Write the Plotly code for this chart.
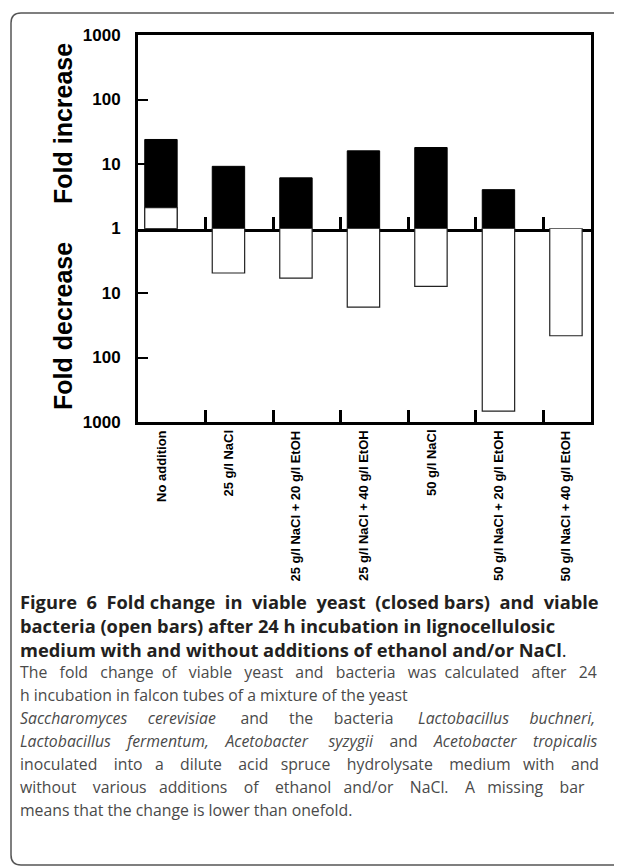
import math
import plotly.graph_objects as go

# ---------------- data ----------------
categories = [
    "No addition",
    "25 g/l NaCl",
    "25 g/l NaCl + 20 g/l EtOH",
    "25 g/l NaCl + 40 g/l EtOH",
    "50 g/l NaCl",
    "50 g/l NaCl + 20 g/l EtOH",
    "50 g/l NaCl + 40 g/l EtOH",
]
# yeast: fold increase (None = change lower than onefold, no bar)
yeast_fold = [24, 9.2, 6.1, 16, 18, 4.0, None]
# bacteria: positive = fold increase, negative = fold decrease
bacteria_fold = [2.1, -4.9, -5.9, -16.6, -7.9, -680, -46]

up_tick_vals = [3, 2, 1, 0]
up_tick_text = ["1000", "100", "10", "1"]
down_tick_vals = [-1, -2, -3]
down_tick_text = ["10", "100", "1000"]


def signed_log(v):
    if v is None:
        return None
    return math.copysign(math.log10(abs(v)), v)


yeast_y = [signed_log(v) for v in yeast_fold]
bact_y = [signed_log(v) for v in bacteria_fold]
idx = list(range(len(categories)))

# ---------------- geometry ----------------
W, H = 622, 868
OFF = 8  # page offset of the figure (body margin)
L, T = 130, 27
PW, PH = 453, 387
R, B = W - L - PW, H - T - PH
CAT_PX = 67.5        # pixel width of one category slot
BAR_POS = 0.34       # bar centre position inside its slot (fraction)
x_range = [-BAR_POS, PW / CAT_PX - BAR_POS]
boundaries = [i + 1 - BAR_POS for i in idx[:-1]]


def px(x):
    """page x pixel -> paper"""
    return (x - OFF - L) / PW


def py(y):
    """page y pixel -> paper"""
    return (T + PH - (y - OFF)) / PH


AX_FONT = "Liberation Sans, Arial, sans-serif"
CAP_FONT = "Open Sans, Noto Sans, sans-serif"

fig = go.Figure()
for xa, ya in [("x", "y"), ("x2", "y2")]:
    fig.add_trace(go.Bar(
        x=idx, y=yeast_y, width=0.48, xaxis=xa, yaxis=ya,
        marker=dict(color="black", line=dict(color="black", width=1)),
        showlegend=False, hoverinfo="skip",
    ))
    fig.add_trace(go.Bar(
        x=idx, y=bact_y, width=0.48, xaxis=xa, yaxis=ya,
        marker=dict(color="white", line=dict(color="#222222", width=1.2)),
        showlegend=False, hoverinfo="skip",
    ))

common_x = dict(
    range=x_range, showline=True, linewidth=3, linecolor="black",
    showgrid=False, zeroline=False,
    tickmode="array", tickvals=boundaries, ticktext=[""] * len(boundaries),
    ticks="inside", ticklen=12, tickwidth=3, tickcolor="#000000",
    showticklabels=True,
)
common_y = dict(
    ticks="inside", ticklen=10, tickwidth=2, tickcolor="black",
    showline=True, linewidth=3, linecolor="black", mirror=True,
    showgrid=False, zeroline=False,
    tickfont=dict(family=AX_FONT, size=17, color="black", weight="bold"),
    ticklabelstandoff=11,
)

fig.update_layout(
    width=W, height=H,
    margin=dict(l=L, r=R, t=T, b=B),
    paper_bgcolor="white", plot_bgcolor="white",
    barmode="overlay",
    # upper panel: fold increase (its bottom line is the "1" line)
    xaxis=dict(anchor="y", mirror=True, **common_x),
    yaxis=dict(domain=[0.5, 1], anchor="x", range=[0, 3],
               tickvals=up_tick_vals, ticktext=up_tick_text, **common_y),
    # lower panel: fold decrease
    xaxis2=dict(anchor="y2", mirror=False, **common_x),
    yaxis2=dict(domain=[0, 0.5], anchor="x2", range=[-3, 0],
                tickvals=down_tick_vals, ticktext=down_tick_text, **common_y),
)

# category labels under the lower panel
for i, cat in zip(idx, categories):
    fig.add_annotation(
        text=cat, xref="x2", yref="paper", x=i, y=0,
        xanchor="center", yanchor="top", yshift=-6, textangle=-90,
        showarrow=False,
        font=dict(family=AX_FONT, size=13, color="black", weight="bold"),
    )

# y-axis titles
for txt, ycen in [("Fold increase", 124), ("Fold decrease", 326)]:
    fig.add_annotation(
        text=txt, xref="paper", yref="paper", x=px(63), y=py(ycen),
        xanchor="center", yanchor="middle", textangle=-90, showarrow=False,
        font=dict(family=AX_FONT, size=25, color="black", weight="bold"),
    )


def justify(line, extra):
    """spread `extra` non-breaking spaces evenly over the word gaps"""
    words = line.split(" ")
    gaps = len(words) - 1
    out = words[0]
    for g in range(gaps):
        k = round((g + 1) * extra / gaps) - round(g * extra / gaps)
        out += " " + "\u00a0" * k + words[g + 1]
    return out


# caption: (text, centre y, bold?, extra spaces for justification)
cap_lines = [
    ("Figure 6 Fold change in viable yeast (closed bars) and viable", 601, True, 8),
    ("bacteria (open bars) after 24 h incubation in lignocellulosic", 625, True, 0),
    ("medium with and without additions of ethanol and/or NaCl", 649, True, 0),
    ("The fold change of viable yeast and bacteria was calculated after 24", 672, False, 20),
    ("h incubation in falcon tubes of a mixture of the yeast", 695, False, 0),
    ("<i>Saccharomyces cerevisiae</i> and the bacteria <i>Lactobacillus buchneri,</i>", 718, False, 26),
    ("<i>Lactobacillus fermentum, Acetobacter syzygii</i> and <i>Acetobacter tropicalis</i>", 741, False, 19),
    ("inoculated into a dilute acid spruce hydrolysate medium with and", 764, False, 24),
    ("without various additions of ethanol and/or NaCl. A missing bar", 787, False, 24),
    ("means that the change is lower than onefold.", 810, False, 0),
]
for i, (txt, ycen, bold, extra) in enumerate(cap_lines):
    txt = justify(txt, extra) if extra else txt
    if bold:
        txt = "<b>" + txt + "</b>" + ("." if i == 2 else "")
    fig.add_annotation(
        text=txt, xref="paper", yref="paper", x=px(18), y=py(ycen),
        xanchor="left", yanchor="middle", showarrow=False,
        font=dict(family=CAP_FONT, size=18.3 if bold else 15.8,
                  color="#231f20" if bold else "#4a4a4a"),
    )

# rounded frame around the figure panel
x0, y0, x1, y1, r = 11, 13, 640, 865, 10
path = (
    f"M {px(x1)},{py(y0)} L {px(x0 + r)},{py(y0)} "
    f"Q {px(x0)},{py(y0)} {px(x0)},{py(y0 + r)} "
    f"L {px(x0)},{py(y1 - r)} "
    f"Q {px(x0)},{py(y1)} {px(x0 + r)},{py(y1)} "
    f"L {px(x1)},{py(y1)}"
)
fig.add_shape(type="path", path=path, xref="paper", yref="paper",
              line=dict(color="#555555", width=1.5))

fig.write_html("out.html")
